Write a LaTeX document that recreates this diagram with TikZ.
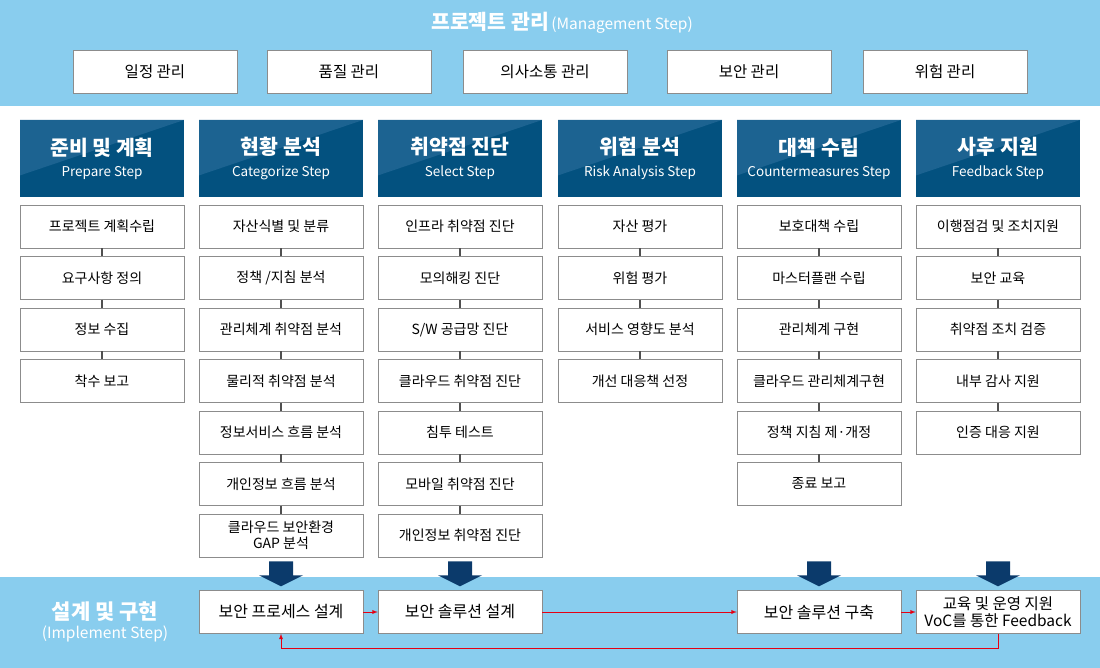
\documentclass[tikz,border=0pt]{standalone}
\usepackage{fontspec}
\setmainfont{Noto Sans CJK KR}
\usetikzlibrary{calc}

\definecolor{bandblue}{HTML}{89CDEE}
\definecolor{headblue}{HTML}{03517F}
\definecolor{glossblue}{HTML}{1C6391}
\definecolor{arrowblue}{HTML}{0B3A6B}
\definecolor{boxgray}{HTML}{8C8C8C}
\definecolor{linkgray}{HTML}{505050}
\definecolor{flowred}{HTML}{E50012}

\tikzset{
  mgmtbox/.style={draw=boxgray, fill=white, minimum width=164pt, minimum height=43pt,
    font=\fontsize{15.5}{17}\selectfont},
  stephead/.style={fill=headblue, minimum width=164pt, minimum height=77pt, inner sep=0pt,
    text=white, align=center,
    path picture={\fill[glossblue] (path picture bounding box.north west)
      -- (path picture bounding box.north east)
      -- ($(path picture bounding box.north west)!0.72!(path picture bounding box.south west)$) -- cycle;}},
  itembox/.style={draw=boxgray, fill=white, minimum width=164pt, minimum height=43pt,
    inner sep=1pt, align=center, font=\fontsize{14}{16}\selectfont},
  link/.style={linkgray, line width=1.2pt},
  implbox/.style={draw=boxgray, fill=white, minimum width=164pt, minimum height=43pt,
    inner sep=1pt, align=center, font=\fontsize{16}{18}\selectfont},
  flow/.style={->, >=latex, flowred, line width=0.9pt}
}

% thick arrow that drops onto an implement box
\newcommand{\bigdown}[1]{%
  \fill[arrowblue] ($(#1.north)+(-12,-29)$) -- ++(24,0) -- ++(0,14) -- ++(10,0)
    -- ++(-22,11) -- ++(-22,-11) -- ++(10,0) -- cycle;}

\begin{document}
\begin{tikzpicture}[x=1pt,y=-1pt]
\useasboundingbox (0,0) rectangle (1100,668);

\fill[bandblue] (0,0) rectangle (1100,106);
\fill[bandblue] (0,577) rectangle (1100,668);

% management step
\node[white] (mtitle) at (562,23) {{\bfseries\fontsize{20.5}{22}\selectfont 프로젝트 관리}
  {\fontsize{15.5}{17}\selectfont (Management Step)}};

\foreach \t/\x [count=\i] in {일정 관리/155,품질 관리/349,의사소통 관리/545,보안 관리/749,위험 관리/945} {
  \node[mgmtbox] (m\i) at (\x,72) {\t};
}

% step headers
\foreach \k/\e/\x [count=\i] in {준비 및 계획/Prepare Step/102, 현황 분석/Categorize Step/281,
    취약점 진단/Select Step/460, 위험 분석/Risk Analysis Step/640,
    대책 수립/Countermeasures Step/819, 사후 지원/Feedback Step/998} {
  \node[stephead] (hd\i) at (\x,158.5)
    {{\bfseries\fontsize{20.5}{22}\selectfont \k}\\[8pt]{\fontsize{13.5}{15}\selectfont \e}};
}

% items of every step
\foreach \c/\x/\list in {
    1/102/{프로젝트 계획수립,요구사항 정의,정보 수집,착수 보고},
    2/281/{자산식별 및 분류,정책 /지침 분석,관리체계 취약점 분석,물리적 취약점 분석,정보서비스 흐름 분석,개인정보 흐름 분석,클라우드 보안환경\\GAP 분석},
    3/460/{인프라 취약점 진단,모의해킹 진단,S/W 공급망 진단,클라우드 취약점 진단,침투 테스트,모바일 취약점 진단,개인정보 취약점 진단},
    4/640/{자산 평가,위험 평가,서비스 영향도 분석,개선 대응책 선정},
    5/819/{보호대책 수립,마스터플랜 수립,관리체계 구현,클라우드 관리체계구현,정책 지침 제·개정,종료 보고},
    6/998/{이행점검 및 조치지원,보안 교육,취약점 조치 검증,내부 감사 지원,인증 대응 지원}} {
  \foreach \t [count=\i, remember=\i as \j (initially 0)] in \list {
    \node[itembox] (c\c-\i) at (\x,{226.5+51.5*(\i-1)}) {\t};
    \ifnum\i>1 \draw[link] (c\c-\j) -- (c\c-\i); \fi
  }
}

% implement step
\node[white, align=center] (itile) at (105,622)
  {{\bfseries\fontsize{21}{23}\selectfont 설계 및 구현}\\[4pt]{\fontsize{15.5}{17}\selectfont (Implement Step)}};

\node[implbox] (secproc) at (281,612) {보안 프로세스 설계};
\node[implbox] (secdesign) at (460,612) {보안 솔루션 설계};
\node[implbox] (secbuild) at (819,612) {보안 솔루션 구축};
\node[implbox, font=\fontsize{15.5}{16.5}\selectfont] (opsupport) at (998,612)
  {교육 및 운영 지원\\VoC를 통한 Feedback};

\bigdown{secproc}
\bigdown{secdesign}
\bigdown{secbuild}
\bigdown{opsupport}

\draw[flow] (secproc) -- (secdesign);
\draw[flow] (secdesign) -- (secbuild);
\draw[flow] (secbuild) -- (opsupport);
\draw[flow] (opsupport.south) -- ++(0,15) -| (secproc.south);

\end{tikzpicture}
\end{document}
